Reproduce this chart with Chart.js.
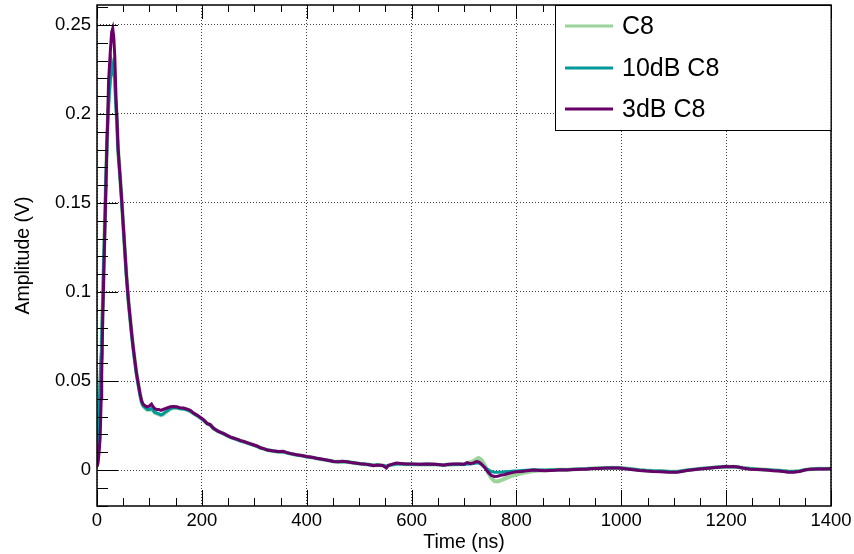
<!DOCTYPE html>
<html><head><meta charset="utf-8">
<script src="https://cdn.jsdelivr.net/npm/chart.js@4.4.0/dist/chart.umd.min.js"></script>
<style>html,body{margin:0;padding:0;background:#fff;overflow:hidden}#wrap{width:854px;height:554px}</style>
</head><body><div id="wrap"><canvas id="c" width="854" height="554"></canvas></div>
<script>
// ---- data ----
const times = [
  0,2,4,6,8,9,11,13,15,17,
  19,20,22,24,26,28,30,32,34,36,
  38,40,42,44,47,50,53,56,60,63,
  66,69,72,75,79,82,85,88,92,96,
  100,104,106,110,114,118,122,126,130,135,
  140,146,152,158,165,172,178,184,190,196,
  203,210,216,222,230,236,241,248,255,260,
  268,274,280,290,298,305,312,318,325,335,
  345,355,362,370,381,390,400,410,418,425,
  435,445,451,460,468,476,485,495,502,512,
  520,527,535,545,552,556,562,571,580,590,
  600,615,630,645,655,662,667,678,690,700,
  706,712,718,724,728,733,740,746,752,758,
  764,770,778,786,794,800,810,820,832,845,
  855,864,875,885,896,910,925,934,945,955,
  972,985,997,1010,1023,1035,1048,1061,1075,1090,
  1106,1115,1125,1137,1150,1160,1169,1180,1190,1198,
  1206,1214,1222,1232,1245,1260,1277,1290,1300,1309,
  1318,1328,1340,1350,1360,1375,1388,1400
];
const c8 = [
  0.005,0.018,0.033,0.048,0.063,0.073,0.093,0.118,0.139,0.162,
  0.183,0.193,0.206,0.215,0.222,0.229,0.227,0.229,0.221,0.206,
  0.196,0.181,0.173,0.165,0.152,0.138,0.124,0.110,0.095,0.086,
  0.077,0.069,0.062,0.055,0.048,0.043,0.038,0.036,0.0348,0.0338,
  0.0338,0.0342,0.0338,0.0323,0.0318,0.0312,0.0308,0.0312,0.0322,0.0333,
  0.0344,0.035,0.035,0.0346,0.0344,0.0338,0.033,0.0318,0.0307,0.0296,
  0.0281,0.0261,0.0253,0.0234,0.0219,0.0211,0.0205,0.0194,0.0184,0.0179,
  0.0171,0.0164,0.0159,0.0149,0.0141,0.0134,0.0124,0.0119,0.0112,0.0107,
  0.0103,0.0102,0.0097,0.0091,0.0085,0.0081,0.0075,0.0071,0.0066,0.0062,
  0.0057,0.0052,0.0048,0.0046,0.0047,0.0046,0.0042,0.0038,0.0035,0.0032,
  0.003,0.0027,0.0028,0.0026,0.0022,0.0025,0.003,0.0034,0.0034,0.0033,
  0.0032,0.0031,0.0032,0.0031,0.0029,0.0028,0.003,0.0031,0.0032,0.0033,
  0.0038,0.0042,0.005,0.0062,0.0067,0.0058,0.0025,-0.0015,-0.0045,-0.0062,
  -0.0064,-0.0058,-0.0048,-0.0038,-0.003,-0.0025,-0.0019,-0.0012,-0.0005,-0.0002,
  -0.0001,0.0,0.0001,0.0002,0.0002,0.0004,0.0006,0.0007,0.0009,0.001,
  0.0012,0.0013,0.0012,0.0008,0.0004,0.0,-0.0003,-0.0005,-0.0006,-0.0008,
  -0.0009,-0.0005,-0.0001,0.0003,0.0007,0.001,0.0012,0.0015,0.0017,0.0019,
  0.0019,0.0019,0.0017,0.0012,0.0008,0.0005,0.0002,-0.0001,-0.0003,-0.0005,
  -0.0007,-0.0008,-0.0005,0.0001,0.0005,0.0007,0.0007,0.0007
];
const c8_10dB = [
  0.006,0.020,0.035,0.050,0.065,0.075,0.095,0.120,0.140,0.163,
  0.183,0.193,0.205,0.214,0.221,0.228,0.225,0.228,0.219,0.205,
  0.195,0.180,0.172,0.164,0.151,0.137,0.123,0.109,0.094,0.085,
  0.076,0.068,0.061,0.054,0.047,0.042,0.038,0.036,0.035,0.034,
  0.034,0.0345,0.034,0.0325,0.032,0.0315,0.031,0.0315,0.0325,0.0335,
  0.0345,0.035,0.035,0.0345,0.0343,0.0338,0.033,0.0318,0.0307,0.0295,
  0.028,0.026,0.0252,0.0233,0.0218,0.021,0.0204,0.0193,0.0183,0.0178,
  0.017,0.0163,0.0158,0.0148,0.014,0.0133,0.0124,0.0119,0.0112,0.0107,
  0.0103,0.0102,0.0097,0.0091,0.0085,0.0081,0.0075,0.0071,0.0066,0.0062,
  0.0057,0.0052,0.0048,0.0046,0.0047,0.0046,0.0042,0.0038,0.0035,0.0032,
  0.003,0.0027,0.0028,0.0026,0.0022,0.0025,0.003,0.0034,0.0034,0.0033,
  0.0032,0.0031,0.0032,0.0031,0.0029,0.0028,0.003,0.0031,0.0032,0.0031,
  0.0034,0.0034,0.0036,0.004,0.0039,0.0032,0.0015,0.0002,-0.0008,-0.0013,
  -0.0013,-0.0012,-0.001,-0.0008,-0.0006,-0.0005,-0.0003,-0.0001,0.0001,0.0,
  -0.0001,0.0,0.0001,0.0002,0.0002,0.0004,0.0006,0.0007,0.0009,0.001,
  0.0012,0.0013,0.0012,0.0008,0.0004,0.0,-0.0003,-0.0005,-0.0006,-0.0008,
  -0.0009,-0.0005,-0.0001,0.0003,0.0007,0.001,0.0012,0.0015,0.0017,0.0019,
  0.0019,0.0019,0.0017,0.0012,0.0008,0.0005,0.0002,-0.0001,-0.0003,-0.0005,
  -0.0007,-0.0008,-0.0005,0.0001,0.0005,0.0007,0.0007,0.0007
];
const c8_3dB = [
  0.002,0.004,0.010,0.018,0.040,0.053,0.086,0.110,0.135,0.159,
  0.185,0.192,0.218,0.228,0.238,0.246,0.248,0.243,0.232,0.210,
  0.198,0.182,0.173,0.165,0.152,0.138,0.124,0.110,0.095,0.086,
  0.077,0.069,0.062,0.055,0.048,0.043,0.039,0.037,0.036,0.0355,
  0.036,0.037,0.036,0.0345,0.034,0.034,0.0335,0.034,0.0345,0.035,
  0.0355,0.0357,0.0355,0.035,0.0348,0.0342,0.0335,0.032,0.031,0.0298,
  0.0283,0.0262,0.0255,0.0236,0.022,0.0212,0.0206,0.0195,0.0185,0.018,
  0.0172,0.0165,0.016,0.015,0.0142,0.0135,0.0125,0.012,0.0113,0.0108,
  0.0104,0.0106,0.0098,0.0092,0.0086,0.0082,0.0076,0.0072,0.0066,0.0063,
  0.0058,0.0052,0.0048,0.0046,0.0049,0.0047,0.0042,0.0038,0.0035,0.0033,
  0.003,0.0024,0.0028,0.0026,0.0012,0.0026,0.0032,0.0039,0.0037,0.0034,
  0.0034,0.0033,0.0034,0.0032,0.003,0.0027,0.0031,0.0034,0.0034,0.0032,
  0.0042,0.0036,0.004,0.0048,0.0046,0.0035,0.0012,-0.0012,-0.003,-0.0036,
  -0.0035,-0.003,-0.0025,-0.0018,-0.0013,-0.001,-0.0008,-0.0004,0.0,-0.0002,
  -0.0004,-0.0002,-0.0001,0.0001,0.0,0.0003,0.0005,0.0005,0.0008,0.0009,
  0.0011,0.0012,0.0011,0.0006,0.0002,-0.0003,-0.0006,-0.0008,-0.0009,-0.0012,
  -0.0013,-0.0008,-0.0003,0.0002,0.0006,0.0009,0.0011,0.0014,0.0017,0.002,
  0.0018,0.002,0.0017,0.0011,0.0005,0.0003,0.0,-0.0004,-0.0006,-0.0008,
  -0.0012,-0.0013,-0.0008,0.0,0.0005,0.0006,0.0006,0.0007
];
const seriesNames = ['C8', '10dB C8', '3dB C8'];
const xTicks = [0, 200, 400, 600, 800, 1000, 1200, 1400];
const xMinorTicks = [0,50,100,150,200,250,300,350,400,450,500,550,600,650,700,750,800,850,900,950,1000,1050,1100,1150,1200,1250,1300,1350,1400];
const yTicks = [0, 0.05, 0.1, 0.15, 0.2, 0.25];
const yTickLabels = ['0', '0.05', '0.1', '0.15', '0.2', '0.25'];
const yMinorTicks = [-0.02,-0.01,0,0.01,0.02,0.03,0.04,0.05,0.06,0.07,0.08,0.09,0.1,0.11,0.12,0.13,0.14,0.15,0.16,0.17,0.18,0.19,0.2,0.21,0.22,0.23,0.24,0.25,0.26];
const xTitle = 'Time (ns)';
const yTitle = 'Amplitude (V)';

// ---- drawing ----
const FONT = "'Liberation Sans', Arial, Helvetica, sans-serif";
const colors = ['#9bd49b', '#00999b', '#690069'];
const widths = [4, 3, 3];
const orders = [3, 2, 1];

const pts = arr => arr.map((v, i) => ({x: times[i], y: v}));
const datasets = [c8, c8_10dB, c8_3dB].map((arr, k) => ({
  label: seriesNames[k], data: pts(arr), borderColor: colors[k], backgroundColor: colors[k],
  borderWidth: widths[k], pointRadius: 0, tension: 0, fill: false, order: orders[k]
}));

const framePlugin = {
  id: 'frame',
  beforeDraw(chart) {
    const ctx = chart.ctx; ctx.save(); ctx.fillStyle = '#fff';
    ctx.fillRect(0, 0, chart.width, chart.height); ctx.restore();
  },
  afterDatasetsDraw(chart) {
    const {ctx, chartArea: a, scales: {x, y}} = chart;
    ctx.save();
    ctx.strokeStyle = '#000';
    ctx.lineWidth = 1;
    ctx.beginPath();
    xMinorTicks.forEach(v => {
      const px = Math.round(x.getPixelForValue(v)) + 0.5;
      const major = xTicks.includes(v);
      ctx.moveTo(px, a.bottom); ctx.lineTo(px, a.bottom - (major ? 16 : 8));
      ctx.moveTo(px, a.top); ctx.lineTo(px, a.top + (major ? 14 : 7));
    });
    yMinorTicks.forEach(v => {
      const py = Math.round(y.getPixelForValue(v)) + 0.5;
      const major = yTicks.some(t => Math.abs(t - v) < 1e-9);
      ctx.moveTo(a.left, py); ctx.lineTo(a.left + (major ? 21 : 11), py);
    });
    ctx.stroke();
    ctx.lineWidth = 1.5;
    ctx.strokeRect(a.left, a.top, a.right - a.left, a.bottom - a.top);
    ctx.restore();
  },
  afterDraw(chart) {
    const ctx = chart.ctx;
    const a = chart.chartArea;
    ctx.save();
    const bx = 555.5, by = a.top + 0.5, bw = a.right - 555.5, bh = 125;
    ctx.fillStyle = '#fff';
    ctx.fillRect(bx, by, bw, bh);
    ctx.strokeStyle = '#000'; ctx.lineWidth = 1;
    ctx.strokeRect(bx, by, bw, bh);
    const rows = [26, 68, 109];
    ctx.font = '25px ' + FONT;
    ctx.textBaseline = 'middle';
    ctx.textAlign = 'left';
    seriesNames.forEach((name, k) => {
      ctx.strokeStyle = colors[k]; ctx.lineWidth = 3;
      ctx.beginPath(); ctx.moveTo(565, rows[k]); ctx.lineTo(613, rows[k]); ctx.stroke();
      ctx.fillStyle = '#000';
      ctx.fillText(name, 622, rows[k] + 1);
    });
    ctx.restore();
  }
};

new Chart(document.getElementById('c'), {
  type: 'line',
  data: {datasets},
  options: {
    responsive: false, animation: false, devicePixelRatio: 1,
    layout: {padding: {top: 5, right: 23, left: 0, bottom: 0}},
    plugins: {legend: {display: false}, tooltip: {enabled: false}},
    scales: {
      x: {
        type: 'linear', min: 0, max: 1400,
        afterBuildTicks: s => { s.ticks = xTicks.map(v => ({value: v})); },
        afterFit: s => { s.height = 48; s.paddingLeft = 0; s.paddingRight = 0; s.paddingTop = 0; s.paddingBottom = 0; },
        grid: {color: '#444', lineWidth: 1, drawTicks: false},
        border: {display: false, dash: [1, 2]},
        ticks: {padding: 4, color: '#000', font: {family: FONT, size: 18.5}, maxRotation: 0, autoSkip: false,
                callback: v => String(v)},
        title: {display: true, text: xTitle, color: '#000', font: {family: FONT, size: 19.5}, padding: {top: 0, bottom: 0}}
      },
      y: {
        type: 'linear', min: -0.0202, max: 0.2612,
        afterBuildTicks: s => { s.ticks = yTicks.map(v => ({value: v})); },
        afterFit: s => { s.width = 97; s.paddingLeft = 0; s.paddingRight = 0; s.paddingTop = 0; s.paddingBottom = 0; },
        grid: {color: '#444', lineWidth: 1, drawTicks: false},
        border: {display: false, dash: [1, 2]},
        ticks: {padding: 6, color: '#000', font: {family: FONT, size: 18.5}, autoSkip: false,
                callback: v => yTickLabels[yTicks.findIndex(t => Math.abs(t - v) < 1e-9)]},
        title: {display: true, text: yTitle, color: '#000', font: {family: FONT, size: 19.5}, padding: {top: 12, bottom: 0}}
      }
    }
  },
  plugins: [framePlugin]
});
</script>
</body></html>
